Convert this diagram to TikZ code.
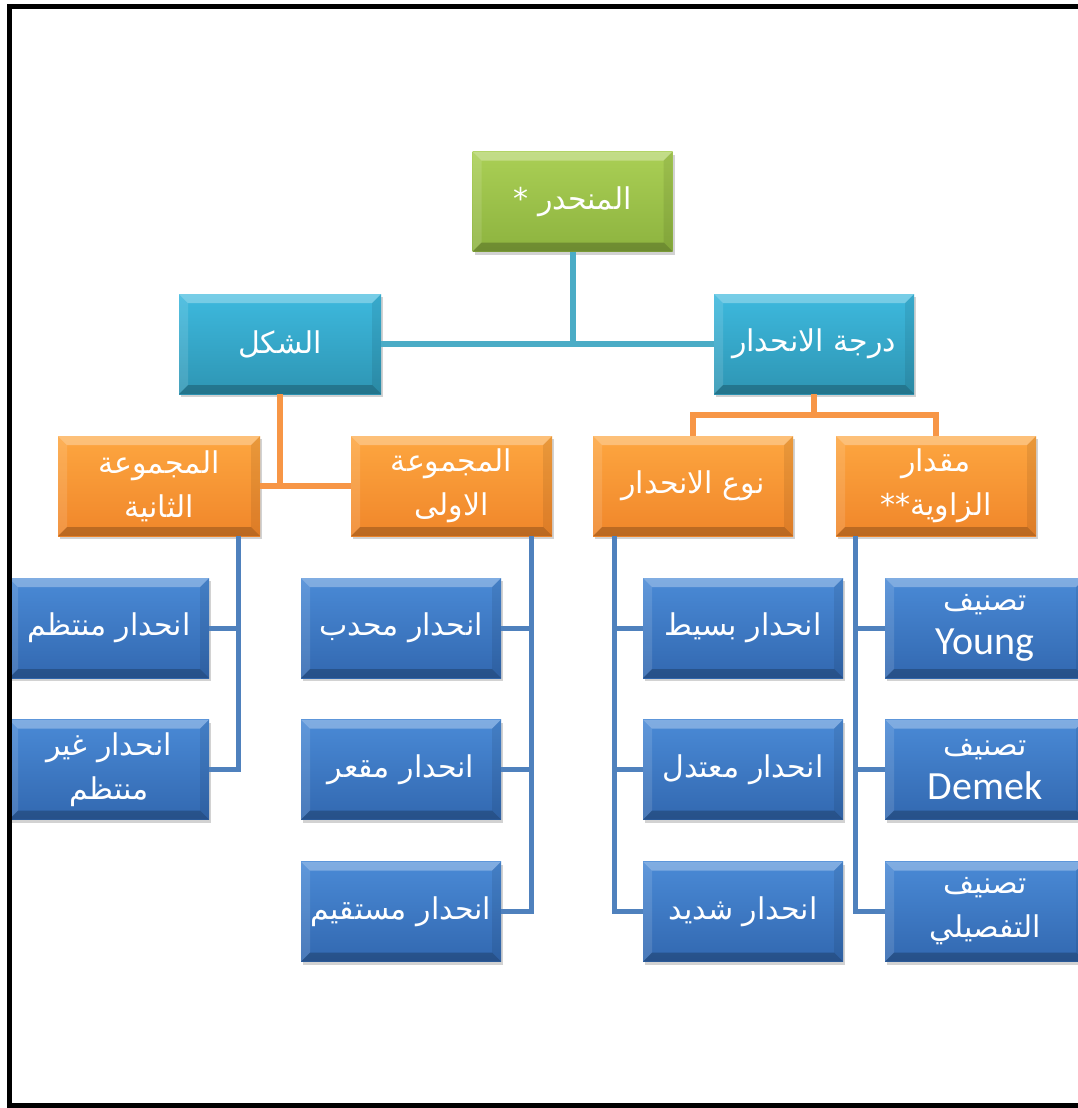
\documentclass[tikz,border=0pt]{standalone}
\usepackage{fontspec}
\setmainfont{Carlito}
\newfontfamily\arabicfont[Script=Arabic]{DejaVu Sans}
\newfontfamily\latinfont{Carlito}
\TeXXeTstate=1
\usetikzlibrary{shadows}
\definecolor{gtop}{HTML}{AACF55}
\definecolor{gbot}{HTML}{8DB33F}
\definecolor{ttop}{HTML}{3DB9DE}
\definecolor{tbot}{HTML}{2E95B3}
\definecolor{otop}{HTML}{FDA640}
\definecolor{obot}{HTML}{F0862A}
\definecolor{btop}{HTML}{4A8AD6}
\definecolor{bbot}{HTML}{3268B0}
\definecolor{tealline}{HTML}{4BACC6}
\definecolor{orangeline}{HTML}{F79646}
\definecolor{blueline}{HTML}{4F81BD}
\tikzset{
  bevel/.style={path picture={
    \path (path picture bounding box.north west) coordinate (pnw)
          (path picture bounding box.south east) coordinate (pse);
    \fill[white,opacity=.30] (pnw) -- (pnw -| pse) -- ([shift={(-9pt,-9pt)}]pnw -| pse) -- ([shift={(9pt,-9pt)}]pnw) -- cycle;
    \fill[white,opacity=.12] (pnw) -- ([shift={(9pt,-9pt)}]pnw) -- ([shift={(9pt,9pt)}]pse -| pnw) -- (pse -| pnw) -- cycle;
    \fill[black,opacity=.08] (pnw -| pse) -- (pse) -- ([shift={(-9pt,9pt)}]pse) -- ([shift={(-9pt,-9pt)}]pnw -| pse) -- cycle;
    \fill[black,opacity=.22] (pse -| pnw) -- (pse) -- ([shift={(-9pt,9pt)}]pse) -- ([shift={(9pt,9pt)}]pse -| pnw) -- cycle;
  }},
  boxbase/.style={rectangle, bevel, inner sep=0pt, minimum width=200pt, minimum height=100pt,
    text=white, align=center, font={\arabicfont\fontsize{30}{44}\selectfont},
    drop shadow={opacity=.35, shadow xshift=2pt, shadow yshift=-3pt}},
  greenbox/.style={boxbase, top color=gtop, bottom color=gbot},
  tealbox/.style={boxbase, top color=ttop, bottom color=tbot},
  orangebox/.style={boxbase, top color=otop, bottom color=obot},
  bluebox/.style={boxbase, top color=btop, bottom color=bbot},
  tline/.style={draw=tealline, line width=6pt},
  oline/.style={draw=orangeline, line width=6pt},
  bline/.style={draw=blueline, line width=5pt},
}
\newcommand\lat[1]{{\latinfont\fontsize{40}{44}\selectfont #1}}
\begin{document}
\begin{tikzpicture}[x=1pt,y=-1pt]
\useasboundingbox (0,0) rectangle (1078,1108);
\fill[white] (0,0) rectangle (1078,1108);

% level 0
\node[greenbox] (top) at (572.5,201.5) {\beginR المنحدر *\endR};
% level 1
\node[tealbox, minimum width=202pt] (shakl) at (280,344) {\beginR الشكل\endR};
\node[tealbox] (daraja) at (814,344) {\beginR درجة الانحدار\endR};
% level 2
\node[orangebox, minimum width=202pt] (g2) at (159,486) {\beginR المجموعة\endR\\\beginR الثانية\endR};
\node[orangebox, minimum width=201pt] (g1) at (451.5,486) {\beginR المجموعة\endR\\\beginR الاولى\endR};
\node[orangebox] (naw) at (693,486) {\beginR نوع الانحدار\endR};
\node[orangebox] (miq) at (936,486) {\beginR مقدار\endR\\\beginR الزاوية\kern0pt**\endR};
% level 3
\node[bluebox] (b21) at (109,628) {\beginR انحدار منتظم\endR};
\node[bluebox] (b22) at (109,769.5) {\beginR انحدار غير\endR\\\beginR منتظم\endR};
\node[bluebox] (b11) at (401,628) {\beginR انحدار محدب\endR};
\node[bluebox] (b12) at (401,769.5) {\beginR انحدار مقعر\endR};
\node[bluebox] (b13) at (401,911.5) {\beginR انحدار مستقيم\endR};
\node[bluebox] (n1) at (743,628) {\beginR انحدار بسيط\endR};
\node[bluebox] (n2) at (743,769.5) {\beginR انحدار معتدل\endR};
\node[bluebox] (n3) at (743,911.5) {\beginR انحدار شديد\endR};
\node[bluebox] (m1) at (985,628) {\beginR تصنيف\endR\\\lat{Young}};
\node[bluebox] (m2) at (985,769.5) {\beginR تصنيف\endR\\\lat{Demek}};
\node[bluebox] (m3) at (985,911.5) {\beginR تصنيف\endR\\\beginR التفصيلي\endR};

% connectors
\draw[tline] (top.south) -- (top.south |- shakl.east);
\draw[tline] (shakl.east) -- (daraja.west);
\draw[oline] (shakl.south) -- (shakl.south |- g1.west);
\draw[oline] (g2.east) -- (g1.west);
\coordinate (dj) at (814,415);
\draw[oline] (daraja.south) -- (dj);
\draw[oline] (naw.north) |- (dj) -| (miq.north);

\coordinate (c2) at (238,536);
\coordinate (c1) at (531,536);
\coordinate (c3) at (614,536);
\coordinate (c4) at (855,536);
\draw[bline] (c2) |- (b22.east);
\draw[bline] (c2 |- b21.east) -- (b21.east);
\draw[bline] (c1) |- (b13.east);
\draw[bline] (c1 |- b11.east) -- (b11.east);
\draw[bline] (c1 |- b12.east) -- (b12.east);
\draw[bline] (c3) |- (n3.west);
\draw[bline] (c3 |- n1.west) -- (n1.west);
\draw[bline] (c3 |- n2.west) -- (n2.west);
\draw[bline] (c4) |- (m3.west);
\draw[bline] (c4 |- m1.west) -- (m1.west);
\draw[bline] (c4 |- m2.west) -- (m2.west);

% frame
\draw[line width=5pt] (9.5,6.5) rectangle (1100,1105.5);
\end{tikzpicture}
\end{document}
